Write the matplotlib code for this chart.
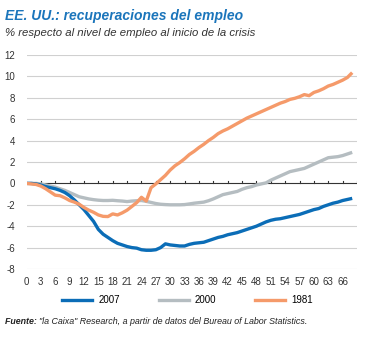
import numpy as np
import matplotlib
matplotlib.use('Agg')
import matplotlib.pyplot as plt

plt.rcParams['font.family'] = ['Liberation Sans', 'DejaVu Sans']

months = np.arange(0, 69)

s2007 = [0, 0, -0.05, -0.15, -0.3, -0.4, -0.5, -0.65, -0.85, -1.15,
         -1.55, -2.0, -2.45, -3.0, -3.55, -4.3, -4.75, -5.05, -5.35, -5.6,
         -5.75, -5.9, -6.0, -6.05, -6.2, -6.25, -6.25, -6.2, -6.0, -5.65,
         -5.75, -5.8, -5.85, -5.85, -5.7, -5.6, -5.55, -5.5, -5.35, -5.2,
         -5.05, -4.95, -4.8, -4.7, -4.6, -4.45, -4.3, -4.15, -4.0, -3.8,
         -3.6, -3.45, -3.35, -3.3, -3.2, -3.1, -3.0, -2.9, -2.75, -2.6,
         -2.45, -2.35, -2.15, -2.0, -1.85, -1.75, -1.6, -1.5, -1.4]

s2000 = [0, 0, 0, -0.05, -0.15, -0.25, -0.35, -0.5, -0.65, -0.85,
         -1.05, -1.25, -1.35, -1.45, -1.52, -1.57, -1.6, -1.6, -1.58, -1.62,
         -1.65, -1.7, -1.65, -1.62, -1.6, -1.68, -1.78, -1.88, -1.95, -1.98,
         -2.0, -2.0, -2.0, -1.98, -1.92, -1.85, -1.8, -1.75, -1.62, -1.45,
         -1.25, -1.05, -0.95, -0.85, -0.75, -0.55, -0.4, -0.3, -0.15, -0.05,
         0.05, 0.3, 0.5, 0.7, 0.9, 1.1, 1.2, 1.3, 1.4, 1.6,
         1.8, 2.0, 2.2, 2.4, 2.45, 2.5, 2.6, 2.75, 2.9]

s1981 = [0, -0.05, -0.1, -0.25, -0.5, -0.8, -1.1, -1.15, -1.35, -1.6,
         -1.75, -1.95, -2.25, -2.5, -2.7, -2.95, -3.08, -3.1, -2.85, -2.95,
         -2.75, -2.5, -2.15, -1.8, -1.3, -1.65, -0.4, -0.05, 0.35, 0.75,
         1.25, 1.65, 1.95, 2.3, 2.7, 3.0, 3.35, 3.65, 4.0, 4.3,
         4.65, 4.9, 5.1, 5.35, 5.6, 5.85, 6.1, 6.3, 6.5, 6.7,
         6.9, 7.1, 7.3, 7.5, 7.65, 7.85, 7.95, 8.1, 8.3, 8.2,
         8.5, 8.65, 8.85, 9.1, 9.25, 9.45, 9.65, 9.9, 10.35]

series = [('2007', s2007, '#0b6db7'), ('2000', s2000, '#b5bdc1'), ('1981', s1981, '#f59a6a')]
xticks = np.arange(0, 67, 3)
yticks = np.arange(-8, 13, 2)

W, H = 371, 338
fig = plt.figure(figsize=(W / 100, H / 100), dpi=100)
ax = fig.add_axes([26.5 / W, 1 - 269 / H, (357 - 26.5) / W, (269 - 55) / H])

for y in yticks:
    if y != 0:
        ax.axhline(y, color='#d0d0d0', lw=0.8, zorder=0)

# draw order: gray under blue under orange
ax.plot(months, s2000, color='#b5bdc1', lw=2.4, solid_capstyle='butt', zorder=2)
ax.plot(months, s2007, color='#0b6db7', lw=2.4, solid_capstyle='butt', zorder=3)
ax.plot(months, s1981, color='#f59a6a', lw=2.4, solid_capstyle='butt', zorder=4)

# zero axis with small upward ticks
ax.axhline(0, color='#333333', lw=0.8, zorder=1)
for m in np.arange(3, 70, 3):
    ax.plot([m, m], [0, 0.25], color='#333333', lw=0.8, zorder=1)

ax.set_xlim(0, 69)
ax.set_ylim(-8, 12)
ax.set_yticks(yticks)
ax.set_yticklabels([str(v) for v in yticks])
ax.set_xticks(xticks)
ax.set_xticklabels([str(v) for v in xticks])
ax.tick_params(axis='both', length=0, labelsize=7, colors='#333333')
ax.tick_params(axis='y', pad=8)
ax.tick_params(axis='x', pad=6)
for s in ax.spines.values():
    s.set_visible(False)

fig.text(5 / W, 1 - 16 / H, 'EE. UU.: recuperaciones del empleo', color='#1b75bb',
         fontsize=10, fontweight='bold', fontstyle='italic', va='center', ha='left')
fig.text(5 / W, 1 - 33 / H, '% respecto al nivel de empleo al inicio de la crisis', color='#333333',
         fontsize=8.2, fontstyle='italic', va='center', ha='left')

handles = [plt.Line2D([], [], color=c, lw=2.4) for _, _, c in series]
fig.legend(handles, [n for n, _, _ in series], loc='center', bbox_to_anchor=(0.505, 1 - 300 / H),
           ncol=3, frameon=False, fontsize=7, handlelength=3.1, columnspacing=4.0, handletextpad=0.6)

t = fig.text(5 / W, 1 - 322 / H, 'Fuente: ', fontsize=6.4, fontweight='bold', fontstyle='italic',
             color='#222222', va='center', ha='left')
fig.canvas.draw()
bb = t.get_window_extent()
fig.text(bb.x1 / (W), 1 - 322 / H, '"la Caixa" Research, a partir de datos del Bureau of Labor Statistics.',
         fontsize=6.4, fontstyle='italic', color='#222222', va='center', ha='left')

fig.savefig('out.png', dpi=100)
